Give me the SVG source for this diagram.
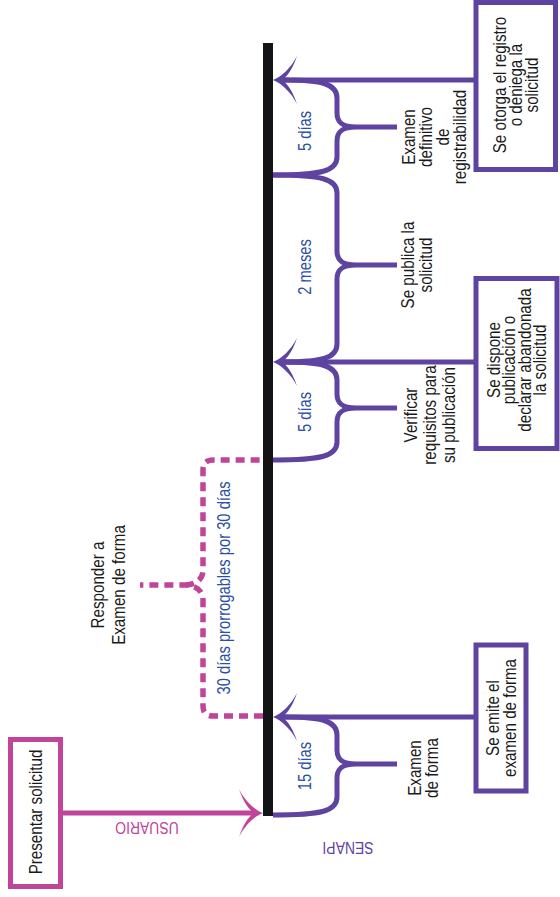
<svg xmlns="http://www.w3.org/2000/svg" width="560" height="897" viewBox="0 0 560 897">
<style>
.t{font-family:"Liberation Sans",sans-serif;font-size:18.5px;fill:#1a1a1a;text-anchor:middle}
.b{font-family:"Liberation Sans",sans-serif;font-size:18px;fill:#2b4fa5;text-anchor:middle}
.lbl{font-family:"Liberation Sans",sans-serif;font-size:17px;text-anchor:middle}
.pbox{fill:#fff;stroke:#5e44a0;stroke-width:5}
.mbox{fill:#fff;stroke:#c0449a;stroke-width:5}
.pl{fill:none;stroke:#5e44a0;stroke-width:5}
.ml{fill:none;stroke:#c0449a;stroke-width:5}
.dash{fill:none;stroke:#c0449a;stroke-width:5.5;stroke-dasharray:9 6}
</style>
<defs>
<path id="ah" d="M0,0 C-8,-3 -18,-12 -24,-24 C-20,-12 -15,-5 -12,-2.5 L-12,2.5 C-15,5 -20,12 -24,24 C-18,12 -8,3 0,0 Z"/>
</defs>
<g id="connectors">
<path class="dash" d="M263,716 L213,716 Q203,716 203,706 L203,600 C203,590 195,585 185,585 L140,585 M185,585 C195,585 203,580 203,570 L203,470 Q203,460 213,460 L263,460"/>
<line class="ml" x1="63" y1="813" x2="252" y2="813"/>
<use href="#ah" fill="#c0449a" transform="translate(263,813)"/>
<rect x="263" y="43" width="10" height="773" fill="#121416"/>
<line class="pl" x1="285" y1="717" x2="476" y2="717"/>
<line class="pl" x1="285" y1="362" x2="476" y2="362"/>
<line class="pl" x1="285" y1="80" x2="476" y2="80"/>
<use href="#ah" fill="#5e44a0" transform="translate(273,717) rotate(180)"/>
<use href="#ah" fill="#5e44a0" transform="translate(273,362) rotate(180)"/>
<use href="#ah" fill="#5e44a0" transform="translate(273,80) rotate(180)"/>
<path class="pl" d="M285,717 C322,717 337,721 337,735 L337,750 C337,760 343,764 356,764 L397,764 M356,764 C343,764 337,768 337,778 L337,797 C337,811 322,815 273,815"/>
<path class="pl" d="M285,362 C322,362 337,366 337,380 L337,394 C337,404 343,408 356,408 L397,408 M356,408 C343,408 337,412 337,422 L337,442 C337,456 322,460 273,460"/>
<path class="pl" d="M273,175 C322,175 337,179 337,193 L337,251 C337,261 343,265 356,265 L397,265 M356,265 C343,265 337,269 337,279 L337,344 C337,358 322,362 285,362"/>
<path class="pl" d="M285,80 C322,80 337,84 337,98 L337,113 C337,123 343,127 356,127 L397,127 M356,127 C343,127 337,131 337,141 L337,157 C337,171 322,175 273,175"/>
</g>
<g id="presentar">
<rect class="mbox" x="10.5" y="739.5" width="50" height="147"/>
<text class="t" transform="translate(41.5,812) rotate(-90) scale(0.82,1)">Presentar solicitud</text>
</g>
<g id="usuario"><text class="lbl" fill="#c0449a" transform="translate(147,822) rotate(180) scale(0.82,1)">USUARIO</text></g>
<g id="senapi"><text class="lbl" fill="#5e44a0" transform="translate(348,842) rotate(180) scale(0.82,1)">SENAPI</text></g>
<g id="responder">
<text class="t" transform="translate(0,585) rotate(-90) scale(0.82,1)"><tspan x="0" y="104">Responder a</tspan><tspan x="0" y="125">Examen de forma</tspan></text>
</g>
<g id="plazo30"><text class="b" transform="translate(230,588) rotate(-90) scale(0.82,1)">30 días prorrogables por 30 días</text></g>
<g id="l15"><text class="b" transform="translate(311,766) rotate(-90) scale(0.82,1)">15 días</text></g>
<g id="l5a"><text class="b" transform="translate(311,412) rotate(-90) scale(0.82,1)">5 días</text></g>
<g id="l2m"><text class="b" transform="translate(311,267) rotate(-90) scale(0.82,1)">2 meses</text></g>
<g id="l5b"><text class="b" transform="translate(311,131) rotate(-90) scale(0.82,1)">5 días</text></g>
<g id="examenforma">
<text class="t" transform="translate(0,768) rotate(-90) scale(0.82,1)"><tspan x="0" y="421">Examen</tspan><tspan x="0" y="438">de forma</tspan></text>
</g>
<g id="emite">
<rect class="pbox" x="476" y="645" width="50" height="146"/>
<text class="t" transform="translate(0,718) rotate(-90) scale(0.82,1)"><tspan x="0" y="499">Se emite el</tspan><tspan x="0" y="516">examen de forma</tspan></text>
</g>
<g id="verificar">
<text class="t" transform="translate(0,415) rotate(-90) scale(0.82,1)"><tspan x="0" y="417">Verificar</tspan><tspan x="0" y="436">requisitos para</tspan><tspan x="0" y="455">su publicación</tspan></text>
</g>
<g id="dispone">
<rect class="pbox" x="476" y="278.5" width="81" height="170"/>
<text class="t" transform="translate(0,360) rotate(-90) scale(0.82,1)"><tspan x="0" y="500">Se dispone</tspan><tspan x="0" y="515.5">publicación o</tspan><tspan x="0" y="531">declarar abandonada</tspan><tspan x="0" y="546.5">la solicitud</tspan></text>
</g>
<g id="publica">
<text class="t" transform="translate(0,265) rotate(-90) scale(0.82,1)"><tspan x="0" y="414">Se publica la</tspan><tspan x="0" y="432">solicitud</tspan></text>
</g>
<g id="definitivo">
<text class="t" transform="translate(0,137) rotate(-90) scale(0.82,1)"><tspan x="0" y="415">Examen</tspan><tspan x="0" y="432">definitivo</tspan><tspan x="0" y="449">de</tspan><tspan x="0" y="466">registrabilidad</tspan></text>
</g>
<g id="otorga">
<rect class="pbox" x="476" y="2.5" width="79.5" height="167"/>
<text class="t" transform="translate(0,85) rotate(-90) scale(0.82,1)"><tspan x="0" y="506">Se otorga el registro</tspan><tspan x="0" y="522">o deniega la</tspan><tspan x="0" y="538">solicitud</tspan></text>
</g>
</svg>
